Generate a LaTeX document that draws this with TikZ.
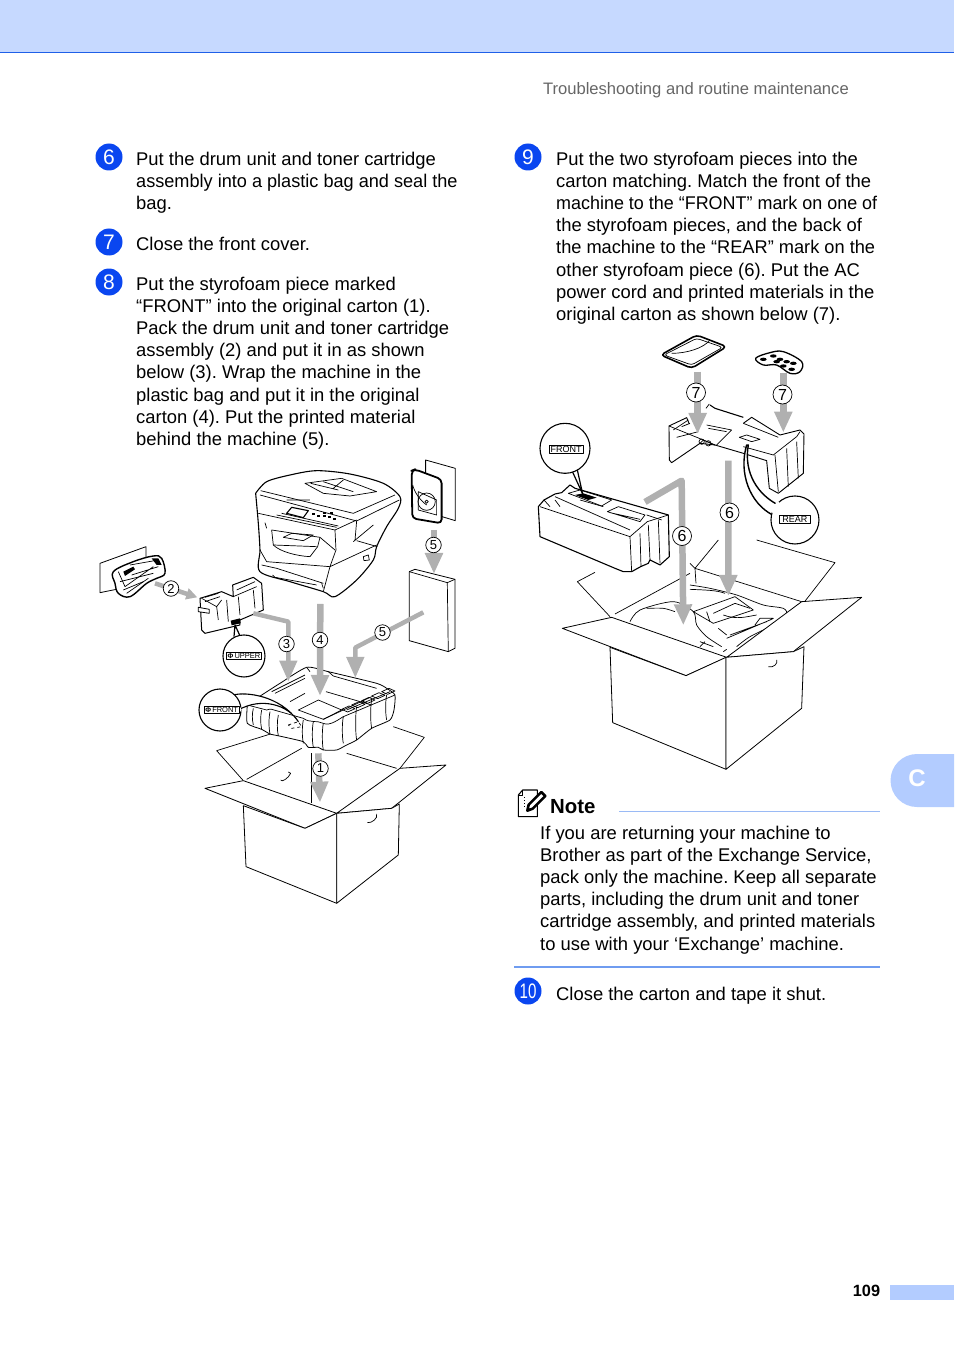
\documentclass[tikz,border=0pt]{standalone}
\usepackage{fontspec}
\setmainfont{Liberation Sans}
\usetikzlibrary{calc,positioning,arrows.meta}
\definecolor{headblue}{HTML}{C6D9FF}
\definecolor{tabblue}{HTML}{B3CCFF}
\definecolor{ruleblue}{HTML}{1F5FE8}
\definecolor{noteblue}{HTML}{6F9CF0}
\definecolor{stepblue}{HTML}{0A46F0}
\definecolor{arrowgrey}{HTML}{B0B0B0}
\frenchspacing
\begin{document}
\begin{tikzpicture}[x=1pt,y=-1pt,>={Triangle[length=21pt,width=17pt]},line join=round]
      \tikzset{
	  para/.style={anchor=north west, align=left, inner sep=0pt, font=\fontsize{18.4}{22.1}\selectfont},
	  stepnum/.style={circle, fill=stepblue, text=white, inner sep=0pt, minimum size=27pt, font=\fontsize{21}{21}\selectfont},
	  num/.style={circle, draw=black, fill=white, line width=0.7pt, inner sep=0pt, minimum size=15.5pt, font=\fontsize{13}{13}\selectfont},
	  bignum/.style={num, minimum size=19pt, font=\fontsize{16}{16}\selectfont},
	  bigarrow/.style={draw=arrowgrey, line width=6.5pt, ->},
	  thinarrow/.style={draw=arrowgrey, line width=4.5pt, ->},
	  ink/.style={draw=black, line width=0.7pt},
	  heavy/.style={draw=black, line width=1.1pt},
	  part/.style={draw=black, line width=0.8pt, fill=white},
	  tagbox/.style={draw=black, line width=0.7pt, fill=white, inner sep=1pt, font=\fontsize{7.5}{8}\selectfont},
	  callout/.style={circle, draw=black, line width=1.1pt, fill=white, inner sep=0pt},
	  zoomone/.style={shift={(90,450)},x=0.3333pt,y=-0.3333pt},
	  zoomtwo/.style={shift={(190,660)},x=0.3333pt,y=-0.3333pt},
	  zoomthree/.style={shift={(530,330)},x=0.3333pt,y=-0.3333pt},
	  zoomfour/.style={shift={(550,540)},x=0.3333pt,y=-0.3333pt},
	  zoomfive/.style={shift={(500,780)},x=0.3333pt,y=-0.3333pt},
      }
      \useasboundingbox (0,0) rectangle (954,1348);
      % page furniture
      \fill[headblue] (0,0) rectangle (954,52);
      \fill[ruleblue] (0,52) rectangle (954,53.5);
      \fill[tabblue] (954,754) -- (917,754) arc[start angle=90,end angle=270,radius=26.5pt] -- (954,807) -- cycle;
      \fill[tabblue] (890,1285) rectangle (954,1300);
      \node (tabc) at (917,778) [text=white,font=\fontsize{24}{24}\bfseries\selectfont] {C};
      \node (pagenum) at (866.5,1290.5) [font=\fontsize{16.3}{17}\bfseries\selectfont] {109};
      \node (runhead) at (849,90.5) [anchor=east,inner sep=0pt,text=black!60,font=\fontsize{16.6}{17}\selectfont] {Troubleshooting and routine maintenance};

      % steps
      \node (s6) at (109,157) [stepnum] {6};
      \node (s6t) at (136,152) [para] {Put the drum unit and toner cartridge\\\scalebox{0.985}[1]{assembly into a plastic bag and seal the}\\bag.};
      \node (s7) at (109,242) [stepnum] {7};
      \node (s7t) at (136,237) [para] {Close the front cover.};
      \node (s8) at (109,282) [stepnum] {8};
      \node (s8t) at (136,277) [para] {Put the styrofoam piece marked\\“FRONT” into the original carton (1).\\Pack the drum unit and toner cartridge\\assembly (2) and put it in as shown\\below (3). Wrap the machine in the\\plastic bag and put it in the original\\carton (4). Put the printed material\\behind the machine (5).};
      \node (s9) at (528,157) [stepnum] {9};
      \node (s9t) at (556,152) [para] {Put the two styrofoam pieces into the\\carton matching. Match the front of the\\\scalebox{0.975}[1]{machine to the “FRONT” mark on one of}\\the styrofoam pieces, and the back of\\\scalebox{0.99}[1]{the machine to the “REAR” mark on the}\\other styrofoam piece (6). Put the AC\\power cord and printed materials in the\\original carton as shown below (7).};
      \node (s10) at (528,991) [stepnum] {\scalebox{0.72}[1]{10}};
      \node (s10t) at (556,987) [para] {Close the carton and tape it shut.};

      % note
      \begin{scope}[zoomfive]
	\draw[heavy,fill=white] (55,45) -- (68,30) -- (112,30) -- (112,110) -- (55,110) -- cycle;
	\draw[ink] (55,45) -- (68,45) -- (68,30);
	\draw[black,dotted,line width=1pt] (72,52) -- (72,85);
	\draw[black,line width=2.6pt,fill=white] (82,92) -- (86,74) -- (124,36) -- (136,48) -- (98,86) -- cycle;
	\fill (82,92) -- (84,82) -- (92,90) -- cycle;
      \end{scope}
      \node (note) at (550,806.5) [anchor=west,inner sep=0pt,font=\fontsize{20.4}{21}\bfseries\selectfont] {Note};
      \draw[noteblue!70,line width=0.6pt] (619,811.5) -- (880,811.5);
      \node (notet) at (540,826) [para] {If you are returning your machine to\\Brother as part of the Exchange Service,\\pack only the machine. Keep all separate\\parts, including the drum unit and toner\\cartridge assembly, and printed materials\\to use with your ‘Exchange’ machine.};
      \draw[noteblue,line width=1.2pt] (514,967) -- (880,967);

      % left picture, upper half
      \begin{scope}[zoomone]
	% machine
	\draw[part,line width=1.1pt] plot[smooth,tension=0.5] coordinates {(497,130) (530,95) (600,75) (680,62) (780,72) (880,100) (930,140) (925,175) (890,230) (860,290) (850,330) (800,390) (735,440) (700,425) (600,395) (510,365) (510,300) (505,220) (497,130)};
	\draw[ink] (510,135) -- (800,213) -- (928,150);
	\draw[ink] (512,122) -- (790,190) -- (915,135);
	\draw[ink] (505,190) -- (735,240) -- (800,210);
	\draw[ink] (645,100) -- (755,85) -- (860,125) -- (780,138) -- (700,130) -- cycle;
	\draw[ink] (662,100) -- (745,120) (700,95) -- (790,125) (730,115) -- (760,90);
	\draw[ink] (590,150) -- (660,150) (560,195) -- (740,232) (575,190) -- (745,228);
	\draw[heavy] (590,190) -- (605,172) -- (655,182) -- (640,203) -- cycle;
	\foreach \bx/\by in {665/190,680/195,700/195,715/198,730/205,720/185,700/185}
	  \fill[black] (\bx,\by) rectangle ++(9,6);
	\draw[ink] (545,240) -- (550,285) .. controls (570,305) and (620,318) .. (660,320) -- (683,290) -- (690,262);
	\draw[ink] (545,240) -- (690,262) -- (735,300) (550,285) -- (680,290);
	\draw[ink] (580,262) -- (605,250) -- (670,255) -- (640,272) -- cycle;
	\draw[ink] (525,218) -- (530,235);
	\draw[ink] (735,240) -- (738,300) -- (720,350) -- (700,425);
	\draw[ink] (800,213) -- (795,272) (790,275) -- (850,225) (800,272) -- (862,290);
	\draw[ink] (510,300) -- (530,335) -- (720,350) -- (860,285);
	\draw[ink] (515,345) -- (560,355) -- (700,400);
	\draw[ink] (548,375) -- (555,382) -- (680,405);
	\draw[ink] (820,320) -- (835,315) -- (838,330) -- (822,332) -- cycle;
	\draw[ink] (695,400) -- (700,415);
	% printed material
	\draw[part] (1007,30) -- (1096,55) -- (1096,212) -- (1007,185) -- cycle;
	\draw[part,line width=1.8pt,rounded corners=4pt] (965,62) -- (975,58) -- (1055,88) -- (1055,220) -- (967,205) -- cycle;
	\draw[ink] (985,125) -- (1040,150) -- (1040,195) -- (985,180) -- cycle;
	\draw[ink] (1010,155) circle (26);
	\draw[ink] (1010,155) circle (5);
	\draw[ink] (968,105) .. controls (975,130) and (990,150) .. (1010,165);
	\draw[part] (958,365) -- (975,358) -- (1095,388) -- (1095,595) -- (1075,605) -- (958,572) -- cycle;
	\draw[ink] (958,365) -- (1072,398) -- (1075,605) (1072,398) -- (1095,388);
	% drum bag
	\draw[part] (30,340) -- (168,290) -- (168,400) -- (30,428) -- cycle;
	\draw[part,line width=1.4pt] plot[smooth cycle,tension=0.6] coordinates {(70,365) (130,335) (190,318) (215,325) (225,370) (200,385) (170,400) (120,440) (85,430) (75,400)};
	\draw[ink] (85,365) -- (105,410) -- (190,350) (120,345) -- (205,330) (125,375) -- (205,350) (100,420) -- (160,395);
	\draw[ink] (90,395) -- (190,370) (110,430) -- (175,385);
	\fill[black] (100,365) -- (130,350) -- (135,358) -- (105,378) -- cycle;
	\fill[black] (185,325) -- (205,325) -- (215,345) -- (200,345) -- cycle;
	% drum unit
	\draw[part,line width=1pt] (330,445) -- (395,425) -- (430,440) -- (428,405) -- (490,382) -- (515,400) -- (520,480) -- (450,510) -- (450,525) -- (345,550) -- (335,540) -- cycle;
	\draw[ink] (335,445) -- (380,470) -- (395,450) (380,470) -- (385,510) (410,450) -- (415,515) (445,440) -- (450,495) (490,420) -- (495,475);
	\draw[ink] (440,420) -- (495,395) (430,440) -- (500,410) (345,442) -- (385,430) (345,455) -- (390,440);
	\draw[part] (325,472) -- (358,478) -- (358,490) -- (325,485) -- cycle;
	\fill[black] (422,512) -- (450,505) -- (452,520) -- (425,526) -- cycle;
	\draw[part,line width=1.2pt] (435,525) -- (452,562) -- (440,575) (435,525) -- (432,560);
	\node (upper) at (462,618) [callout,minimum size=42pt] {};
	\node (uppertag) at (462,618) [tagbox] {\textbf{\scriptsize\char"03A6}\,UPPER};
	% arrow ends
	\coordinate (a2s) at (195,400);
	\coordinate (a2e) at (322,442);
	\coordinate (a3s) at (490,490);
	\coordinate (a3k) at (595,515);
	\coordinate (a3e) at (595,695);
	\coordinate (a4s) at (691,462);
	\coordinate (a5as) at (1032,240);
	\coordinate (a5ae) at (1032,372);
	\coordinate (a5bs) at (1000,487);
	\coordinate (a5bk) at (796,593);
	\coordinate (a5be) at (796,684);
      \end{scope}

      % left picture, styrofoam and carton
      \begin{scope}[zoomtwo]
	\draw[ink] (248,220) -- (80,272) -- (160,362) (610,200) -- (703,232) -- (630,325);
	\draw[ink] (170,358) -- (335,265) (470,280) -- (620,325);
	\draw[ink] (365,280) -- (365,430);
	\draw[part] (45,385) -- (160,362) -- (440,460) -- (345,505) -- cycle;
	\draw[part] (440,460) -- (630,325) -- (768,315) -- (605,445) -- cycle;
	\draw[part] (160,437) -- (168,620) -- (440,730) -- (440,460) -- (345,505) -- cycle;
	\draw[part] (440,730) -- (625,585) -- (628,432) -- (605,445) -- (440,460) -- cycle;
	\draw[ink] (272,360) .. controls (275,368) and (295,355) .. (302,340) (295,336) -- (302,340);
	\draw[ink] (532,488) .. controls (545,490) and (565,475) .. (560,462);
	% styrofoam
	\draw[part] plot[smooth,tension=0.35] coordinates {(172,135) (172,190) (215,208) (240,222) (268,228) (340,245) (355,262) (385,262) (400,270) (440,270) (470,255) (500,240) (545,205) (600,180) (612,150) (615,105) (590,85) (560,70) (415,35) (350,22) (270,70) (200,115) (172,135)};
	\foreach \rx/\ra/\rb in {190/145/195,215/150/208,240/155/222,265/165/228,340/180/250,370/185/262,400/190/270,460/170/250,500/140/240,545/120/205,590/105/180}
	  \draw[ink] (\rx,\ra) .. controls (\rx-4,\ra+20) and (\rx-4,\rb-20) .. (\rx,\rb);
	\draw[ink] (172,135) -- (230,150) (230,150) .. controls (235,150) and (240,145) .. (245,148) -- (340,175) .. controls (360,190) and (380,180) .. (400,190) .. controls (420,200) and (450,175) .. (460,170) -- (615,105);
	\draw[ink] (325,150) -- (385,120) -- (455,150) -- (400,178) -- cycle;
	\draw[ink] (300,125) -- (345,100) (408,95) -- (545,135) (400,178) -- (545,110) (470,150) -- (600,95);
	\draw[ink] (245,95) -- (345,45) (255,100) -- (345,55) (350,22) -- (360,35) (415,35) -- (430,48) -- (560,85);
	\foreach \cx/\cy in {455/148,485/135,515/122,545/108,575/95}
	  \draw[ink] (\cx,\cy) -- ++(22,-10) -- ++(18,8) -- ++(-22,10) -- cycle;
	\draw[ink,dashed] (295,195) -- (325,185) -- (335,200) -- (305,205) -- cycle;
	% front mark
	\draw[part,line width=1.1pt] (130,105) .. controls (165,95) and (270,105) .. (325,185) .. controls (295,135) and (215,110) .. (145,150) -- cycle;
	\node (front) at (90,150) [callout,minimum size=42pt] {};
	\fill[white] (125,118) -- (135,110) -- (155,150) -- (145,160) -- cycle;
	\node (fronttag) at (95,149) [tagbox] {\textbf{\scriptsize\char"03A6}\,FRONT};
	\coordinate (a1a) at (385,280);
	\coordinate (a1b) at (390,428);
	\coordinate (a4e) at (390,108);
      \end{scope}
      \draw[draw=arrowgrey,line width=4.5pt,-{Triangle[length=11pt,width=11pt]}] (a2s) -- (a2e);
      \draw[thinarrow] (a3s) -- (a3k) -- (a3e);
      \draw[bigarrow] (a4s) -- (a4e);
      \draw[bigarrow] (a5as) -- (a5ae);
      \draw[thinarrow] (a5bs) -- (a5bk) -- (a5be);
      \draw[bigarrow] (a1a) -- (a1b);
      \node (n1) at (320.5,768.5) [num] {1};
      \node (n2) at (171,588.5) [num] {2};
      \node (n3) at (286.5,644) [num] {3};
      \node (n4) at (320,640) [num] {4};
      \node (n5a) at (433.5,545) [num] {5};
      \node (n5b) at (382.5,632.5) [num] {5};

      % right picture, carton
      \begin{scope}[zoomfour]
	\draw[ink] (135,97) -- (82,125) -- (180,230) (620,0) -- (855,68) -- (760,190);
	\draw[ink] (505,0) -- (435,85) -- (420,70);
	\draw[ink] (195,222) -- (420,100) (435,85) -- (755,185) (435,85) -- (438,130);
	\draw[ink] plot[smooth,tension=0.5] coordinates {(240,245) (270,210) (370,185) (430,215) (440,255) (470,290) (515,320)};
	\draw[ink] plot[smooth,tension=0.5] coordinates {(290,205) (340,205) (375,215)};
	\draw[ink] plot[smooth,tension=0.5] coordinates {(420,135) (480,145) (560,165) (640,195) (700,205) (710,225) (680,250) (600,290) (560,320)};
	\draw[ink] (420,148) .. controls (460,150) and (500,150) .. (525,160);
	\draw[ink] (430,215) -- (555,170) -- (610,210) -- (490,250) -- cycle;
	\draw[ink] (490,220) -- (555,190) -- (600,205) (470,215) -- (480,245) (520,225) .. controls (560,240) and (590,230) .. (620,225);
	\draw[ink] (530,295) -- (660,240) -- (670,235) -- (630,235) -- (615,255) (540,285) -- (650,245) (505,265) -- (530,285);
	\draw[ink] (450,305) -- (490,320) (450,320) -- (465,305) (520,335) -- (530,328);
	\draw[part] (37,265) -- (185,232) -- (530,352) -- (408,407) -- cycle;
	\draw[part] (530,352) -- (755,185) -- (935,172) -- (730,335) -- cycle;
	\draw[part] (180,322) -- (188,548) -- (528,688) -- (528,352) -- (408,407) -- cycle;
	\draw[part] (528,688) -- (755,505) -- (762,320) -- (730,335) -- (528,352) -- cycle;
	\draw[ink] (655,380) .. controls (670,385) and (685,370) .. (680,360);
	\coordinate (a6ae) at (400,256);
	\coordinate (a6be) at (535,168);
      \end{scope}

      \begin{scope}[zoomthree]
	% left styrofoam piece
	\draw[part,line width=1.1pt] (25,530) -- (42,510) -- (75,492) -- (95,488) -- (120,465) -- (135,475) -- (415,555) -- (418,680) -- (390,705) -- (360,690) -- (355,700) -- (332,710) -- (305,725) -- (280,725) -- (255,715) -- (30,620) -- cycle;
	\draw[ink] (30,530) -- (300,620) -- (305,725) (42,510) -- (60,530) (75,500) -- (300,600) (300,620) -- (352,575) -- (415,555);
	\draw[ink] (330,610) -- (333,710) (355,585) -- (360,690) (385,570) -- (390,700);
	\draw[ink] (115,490) -- (150,480) -- (245,510) -- (215,528) -- cycle;
	\draw[ink] (232,545) -- (265,530) -- (345,555) -- (330,575) -- cycle (240,548) -- (330,568);
	\draw[ink] (75,510) -- (90,530) (150,510) -- (220,530) (350,555) -- (395,570);
	\fill[black] (135,495) -- (160,490) -- (200,503) -- (175,510) -- cycle;
	\draw[part,line width=1.2pt] (125,420) -- (158,492) -- (142,420);
	\node (frontb) at (105,355) [callout,minimum size=50pt] {};
	\node (frontbt) at (108,358) [tagbox,line width=0.8pt,inner xsep=1.5pt,font=\fontsize{9}{9}\selectfont] {FRONT};
	% right styrofoam piece
	\fill[white] (417,288) -- (470,263) -- (530,235) -- (640,262) -- (750,315) -- (810,300) -- (822,312) -- (820,430) -- (745,490) -- (718,475) -- (710,392) -- (640,370) -- (555,345) -- (510,340) -- (425,398) -- (418,390) -- cycle;
	\draw[ink,line width=0.9pt] (478,282) -- (470,263) -- (417,288) -- (418,390) -- (425,398) -- (510,340) -- (555,345) -- (640,370) -- (710,392) -- (718,475) -- (745,490) -- (820,430) -- (822,312) -- (810,300) -- (750,315) -- (665,262) -- (640,280);
	\draw[ink] (417,288) -- (520,330) -- (555,345);
	\draw[ink] (440,322) -- (505,305);
	\draw[ink] (530,285) -- (605,300) -- (560,345) (535,295) -- (590,305);
	\draw[heavy] (540,225) -- (555,235) -- (640,262);
	\draw[ink] (528,235) -- (538,222);
	\draw[ink] (640,280) -- (745,322);
	\draw[ink] (628,322) -- (650,315) -- (690,328) -- (665,335) -- cycle;
	\draw[ink] (430,300) -- (475,270) (455,290) -- (480,280);
	\draw[ink] (510,340) -- (520,330) -- (555,345) (640,350) -- (730,375) -- (800,320) -- (810,305);
	\draw[ink] (735,375) -- (745,485) (770,355) -- (775,470) (800,335) -- (805,445);
	\draw[ink] (515,335) circle (8) (535,340) circle (8);
	% rear mark
	\draw[part,line width=1.4pt] (650,345) .. controls (625,430) and (660,520) .. (728,555) -- (745,525) .. controls (685,495) and (640,430) .. (655,345) -- cycle;
	\node (rear) at (795,570) [callout,minimum size=48pt] {};
	\fill[white] (718,535) -- (745,515) -- (755,525) -- (735,560) -- cycle;
	\node (reart) at (795,569) [tagbox,line width=0.8pt,inner xsep=3pt,font=\fontsize{9}{9}\selectfont] {REAR};
	% printed materials and cord
	\draw[part,line width=1.6pt,rounded corners=4pt] (392,75) -- (500,15) -- (590,50) -- (485,115) -- cycle;
	\draw[ink,rounded corners=3pt] (402,75) -- (500,25) -- (578,52) -- (485,105) -- cycle;
	\draw[ink] (425,70) .. controls (470,70) and (520,55) .. (540,30);
	\draw[part,line width=1.3pt] plot[smooth cycle,tension=0.6] coordinates {(677,85) (720,68) (760,65) (815,95) (810,125) (780,130) (740,105) (700,105)};
	\foreach \dx/\dy in {700/88,730/78,750/88,770/95,790/100,760/108,785/118,740/95}
	  \fill[black] (\dx,\dy) ellipse (10 and 5);
	\coordinate (a7as) at (503,125);
	\coordinate (a7ae) at (503,312);
	\coordinate (a7bs) at (760,130);
	\coordinate (a7be) at (760,308);
	\coordinate (a6as) at (345,516);
	\coordinate (a6ak) at (455,452);
	\coordinate (a6bs) at (595,392);
      \end{scope}
      \draw[bigarrow] (a7as) -- (a7ae);
      \draw[bigarrow] (a7bs) -- (a7be);
      \draw[bigarrow] (a6as) -- (a6ak) -- (a6ae);
      \draw[bigarrow] (a6bs) -- (a6be);
      \node (n7a) at (696,392.5) [bignum] {7};
      \node (n7b) at (782.5,394.5) [bignum] {7};
      \node (n6a) at (682,536) [bignum] {6};
      \node (n6b) at (729.5,512.5) [bignum] {6};
\end{tikzpicture}
\end{document}
